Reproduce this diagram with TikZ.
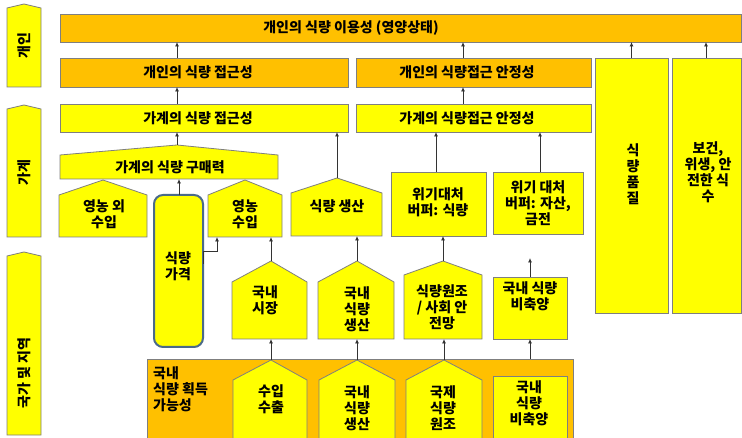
\documentclass[tikz,border=0pt]{standalone}
\usepackage{fontspec}
\setmainfont{Noto Sans CJK KR}
\usetikzlibrary{arrows.meta}
\definecolor{cOr}{HTML}{FFC000}
\definecolor{cYe}{HTML}{FFFF00}
\definecolor{cBd}{HTML}{7F7F7F}
\definecolor{cBl}{HTML}{4A6A8A}
\definecolor{cAr}{HTML}{333333}
\tikzset{
  box/.style={draw=cBd, line width=0.8pt},
  ybox/.style={box, fill=cYe},
  obox/.style={box, fill=cOr},
  txt/.style={font=\fontsize{14}{16}\selectfont\bfseries, align=center, inner sep=0pt, text=black},
  arr/.style={draw=cAr, line width=0.8pt, -{Latex[length=4.5pt,width=4pt]}},
}
% rectangle node: name, style, x1, y1, x2, y2
\newcommand\rbox[6]{\node[#2, anchor=north west, inner sep=0pt, outer sep=0pt,
  minimum width={(#5-#3)*1pt}, minimum height={(#6-#4)*1pt}] (#1) at (#3,#4) {};}
% house shape: name, style, x1, x2, xpeak, ypeak, yshoulder, ybottom
\newcommand\housebox[8]{%
  \filldraw[#2] (#3,#8) -- (#3,#7) -- (#5,#6) -- (#4,#7) -- (#4,#8) -- cycle;
  \coordinate (#1-top) at (#5,#6);
  \node[anchor=north west, inner sep=0pt, outer sep=0pt,
    minimum width={(#4-#3)*1pt}, minimum height={(#8-#7)*1pt}] (#1) at (#3,#7) {};}
\begin{document}
\begin{tikzpicture}[x=1pt,y=-1pt]
\useasboundingbox (0,0) rectangle (742,438);
\clip (0,0) rectangle (742,438);
\fill[white] (0,0) rectangle (742,438);

% left level labels
\housebox{lv1}{ybox}{7}{41}{24}{4}{8}{87}
\housebox{lv2}{ybox}{7}{41}{24}{105}{109}{237}
\housebox{lv3}{ybox}{7}{41}{24}{252}{256}{435}
\node[txt, rotate=90] (lv1t) at (24,46) {개인};
\node[txt, rotate=90] (lv2t) at (24,173) {가계};
\node[txt, rotate=90] (lv3t) at (24,373) {국가 및 지역};

% top rows
\rbox{util}{obox}{60}{14}{741}{42}
\node[txt] (utilt) at (351,28) {개인의 식량 이용성 (영양상태)};
\rbox{accI}{obox}{60}{58}{348}{87}
\node[txt] (accIt) at (198,72.5) {개인의 식량 접근성};
\rbox{stabI}{obox}{356}{58}{591}{87}
\node[txt] (stabIt) at (467,72.5) {개인의 식량접근 안정성};
\rbox{accH}{ybox}{60}{104}{348}{132}
\node[txt] (accHt) at (198,118) {가계의 식량 접근성};
\rbox{stabH}{ybox}{356}{104}{591}{132}
\node[txt] (stabHt) at (467,118) {가계의 식량접근 안정성};
\rbox{qual}{ybox}{595}{58}{668}{313}
\node[txt] (qualt) at (633,174) {식\\량\\품\\질};
\rbox{hlth}{ybox}{672}{58}{741}{313}
\node[txt] (hlth-t) at (708,172) {보건,\\위생, 안\\전한 식\\수};

% household level
\housebox{buy}{ybox}{60}{278}{177}{145}{155}{179}
\node[txt] (buyt) at (170,167) {가계의 식량 구매력};
\housebox{nonf}{ybox}{59}{147}{103}{180}{195}{237}
\node[txt] (nonft) at (104,214) {영농 외\\수입};
\node[draw=cBl, line width=2pt, fill=cYe, rounded corners=9pt, anchor=north west,
  inner sep=0pt, outer sep=0pt, minimum width=49pt, minimum height=152pt] (price) at (154,195) {};
\node[txt] (pricet) at (178,266) {식량\\가격};
\housebox{farm}{ybox}{208}{282}{245}{180}{195}{237}
\node[txt] (farmt) at (245,214) {영농\\수입};
\housebox{prod}{ybox}{291}{382}{337}{178}{193}{236}
\node[txt] (prodt) at (337,206) {식량 생산};
\rbox{bufF}{ybox}{391}{172}{486}{236}
\node[txt] (bufFt) at (438,202) {위기대처\\버퍼: 식량};
\rbox{bufA}{ybox}{493}{172}{583}{234}
\node[txt] (bufAt) at (538,203) {위기 대처\\버퍼: 자산,\\금전};

% national level, upper
\housebox{mkt}{ybox}{232}{307}{271}{261}{282}{339}
\node[txt] (mktt) at (265,300) {국내\\시장};
\housebox{dprod}{ybox}{318}{394}{357}{261}{282}{339}
\node[txt] (dprodt) at (357,309) {국내\\식량\\생산};
\housebox{aid}{ybox}{404}{482}{443}{261}{275}{339}
\node[txt] (aidt) at (442,307) {식량원조\\/ 사회 안\\전망};
\rbox{stock}{ybox}{493}{277}{567}{339}
\node[txt] (stockt) at (530,296) {국내 식량\\비축양};

% national level, lower
\rbox{avail}{obox}{147}{359}{573}{450}
\node[txt, align=left, anchor=west] (availt) at (153,389) {국내\\식량 획득\\가능성};
\housebox{impx}{ybox}{233}{307}{271}{360}{380}{450}
\node[txt] (impxt) at (271,399) {수입\\수출};
\housebox{dprodB}{ybox}{319}{395}{357}{360}{380}{450}
\node[txt] (dprodBt) at (357,408) {국내\\식량\\생산};
\housebox{iaid}{ybox}{406}{482}{444}{360}{380}{450}
\node[txt] (iaidt) at (443,408) {국제\\식량\\원조};
\rbox{stockB}{ybox}{493}{376}{567}{450}
\node[txt] (stockBt) at (529,403) {국내\\식량\\비축양};

% helper coordinates
\coordinate (priceOut) at (203,264);
\coordinate (priceElb) at (217,251);
\coordinate (stockTip) at (530,258);
\coordinate (availOut) at (530,359);

% connectors
\draw[arr] (accI.north -| 177,0) -- (util.south -| 177,0);
\draw[arr] (stabI.north -| 463,0) -- (util.south -| 463,0);
\draw[arr] (qual.north) -- (util.south -| qual.north);
\draw[arr] (hlth.north -| 706,0) -- (util.south -| 706,0);
\draw[arr] (accH.north -| 177,0) -- (accI.south -| 177,0);
\draw[arr] (stabH.north -| 463,0) -- (stabI.south -| 463,0);
\draw[arr] (buy-top) -- (accH.south -| buy-top);
\draw[arr] (prod-top) -- (accH.south -| prod-top);
\draw[arr] (bufF.north -| 436,0) -- (stabH.south -| 436,0);
\draw[arr] (bufA.north -| 540,0) -- (stabH.south -| 540,0);
\draw[arr] (price.north -| 179,0) -- (buy.south -| 179,0);
\draw[arr] (priceOut) -- (priceOut |- priceElb) -- (priceElb) -- (priceElb |- farm.south);
\draw[arr] (mkt-top) -- (mkt-top |- farm.south);
\draw[arr] (dprod-top) -- (dprod-top |- prod.south);
\draw[arr] (aid-top) -- (aid-top |- bufF.south);
\draw[arr] (stock.north) -- (stockTip);
\draw[arr] (impx-top) -- (impx-top |- mkt.south);
\draw[arr] (dprodB-top) -- (dprodB-top |- dprod.south);
\draw[arr] (iaid-top) -- (iaid-top |- aid.south);
\draw[arr] (availOut) -- (availOut |- stock.south);
\end{tikzpicture}
\end{document}
